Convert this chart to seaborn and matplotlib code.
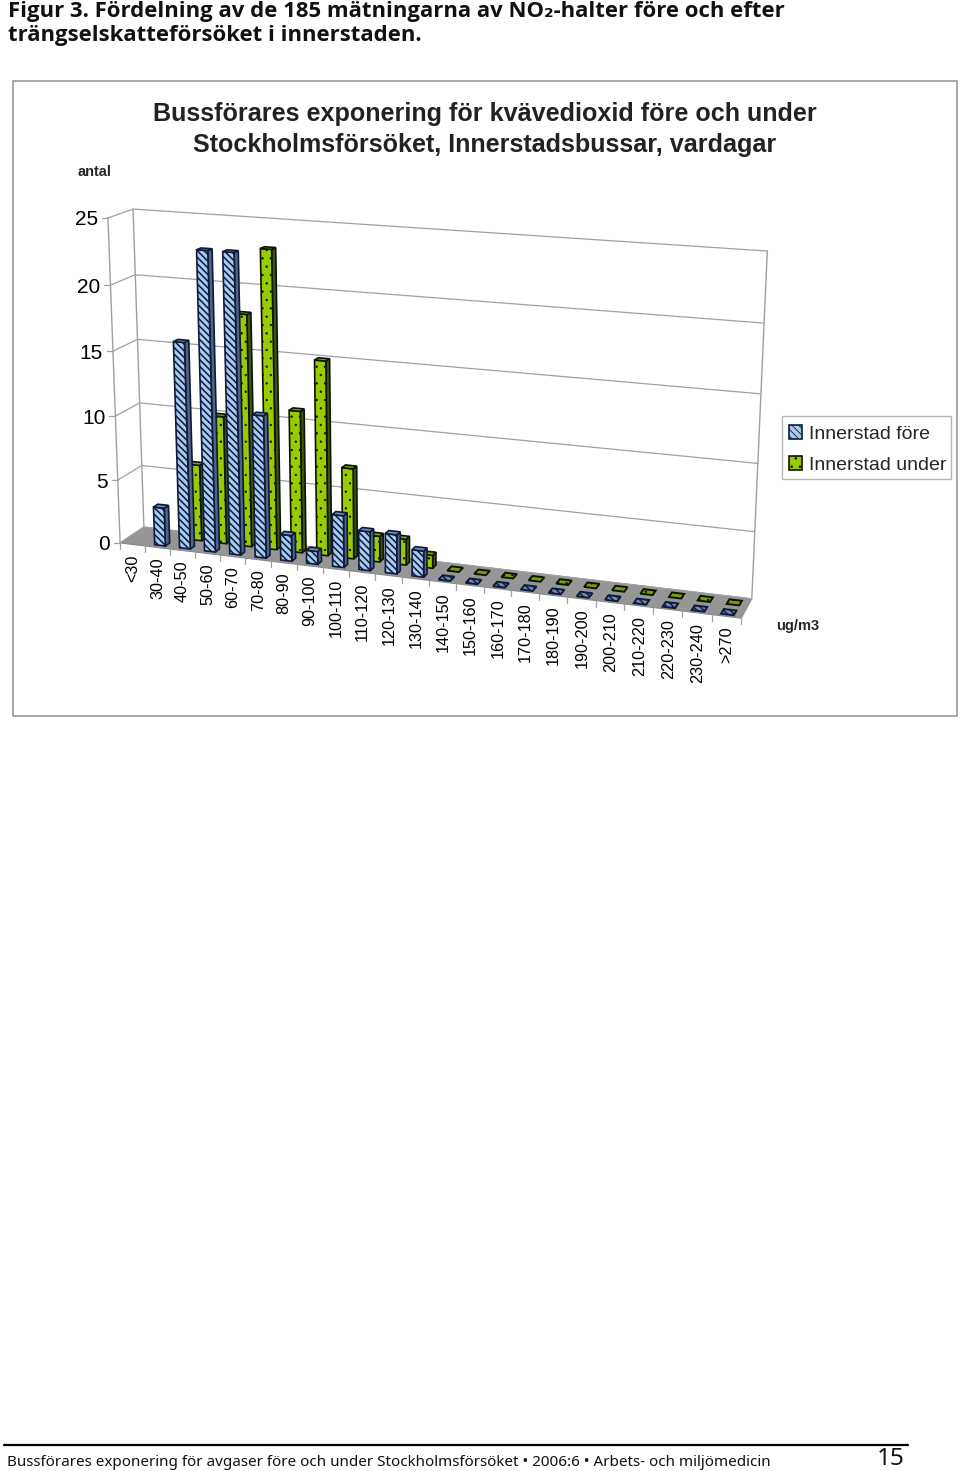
import numpy as np
import pandas as pd
import matplotlib
matplotlib.use("Agg")
import matplotlib.pyplot as plt
from matplotlib.patches import Polygon, Patch, Rectangle
import seaborn as sns

categories = ["<30", "30-40", "40-50", "50-60", "60-70", "70-80", "80-90", "90-100",
              "100-110", "110-120", "120-130", "130-140", "140-150", "150-160",
              "160-170", "170-180", "180-190", "190-200", "200-210", "210-220",
              "220-230", "230-240", ">270"]
fore = [np.nan, 3, 16, 23, 23, 11, 2, 1, 4, 3, 3, 2, 0, 0, 0, 0, 0, 0, 0, 0, 0, 0, 0]
under = [np.nan, np.nan, 6, 10, 18, 23, 11, 15, 7, 2, 2, 1, 0, 0, 0, 0, 0, 0, 0, 0, 0, 0, 0]
y_ticks = [0, 5, 10, 15, 20, 25]
series_names = ["Innerstad före", "Innerstad under"]

sns.set_theme(style="white", font="Liberation Sans")

df = pd.concat([
    pd.DataFrame({"kategori": categories, "antal": fore, "serie": series_names[0]}),
    pd.DataFrame({"kategori": categories, "antal": under, "serie": series_names[1]}),
], ignore_index=True)

fig = plt.figure(figsize=(9.6, 14.71), dpi=100, facecolor="white")
ax = fig.add_axes([0, 0, 1, 1])
ax.set_xlim(0, 960)
ax.set_ylim(1471, 0)
ax.axis("off")

# seaborn computes the bars on a hidden category axis; they are then projected in 3D
hidden = fig.add_axes([0, 0, 1, 1])
sns.barplot(data=df, x="kategori", y="antal", hue="serie", order=categories,
            hue_order=series_names, dodge=False, width=0.43, errorbar=None,
            legend=False, ax=hidden)
hidden.set_visible(False)

# camera fitted on the corners of the chart box: (category, depth, value) -> pixel
n_cat = len(categories)
box = [((0, 0, 0), (120, 543)), ((n_cat, 0, 0), (741, 618)),
       ((0, 1, 0), (144, 527)), ((n_cat, 1, 0), (752, 599)),
       ((0, 0, 25), (108, 218)), ((n_cat, 0, 25), (757, 262)),
       ((0, 1, 25), (133, 209)), ((n_cat, 1, 25), (767, 251))]
rows = []
for (u, d, v), (px, py) in box:
    X = [u, d, v, 1]
    rows.append(X + [0, 0, 0, 0] + [-px * c for c in X])
    rows.append([0, 0, 0, 0] + X + [-py * c for c in X])
cam = np.linalg.svd(np.array(rows, float))[2][-1].reshape(3, 4)


def P(u, d, v):
    w = cam @ np.array([u, d, v, 1.0])
    return w[0] / w[2], w[1] / w[2]


GRID = "#a0a0a0"
# floor and walls
ax.add_patch(Polygon([P(0, 0, 0), P(n_cat, 0, 0), P(n_cat, 1, 0), P(0, 1, 0)],
                     closed=True, fc="#969696", ec="#8a8a8a", lw=0.8, zorder=1))
for v in y_ticks:
    pts = [P(0, 0, v), P(0, 1, v), P(n_cat, 1, v)]
    ax.plot(*zip(*pts), color=GRID, lw=0.9, zorder=1)
    x0, y0 = P(0, 0, v)
    ax.plot([x0 - 6, x0], [y0, y0], color=GRID, lw=0.9, zorder=1)
    ax.text(x0 - 10, y0 + 2, str(v), ha="right", va="center", fontsize=15, color="black")
for pts in ([P(0, 0, 0), P(0, 0, 25)], [P(0, 1, 0), P(0, 1, 25)], [P(n_cat, 1, 0), P(n_cat, 1, 25)]):
    ax.plot(*zip(*pts), color=GRID, lw=1.0, zorder=1)
for i in range(n_cat + 1):
    x0, y0 = P(i, 0, 0)
    ax.plot([x0, x0], [y0, y0 + 6], color=GRID, lw=0.9, zorder=1)
for i, lab in enumerate(categories):
    x0, y0 = P(i + 0.5, 0, 0)
    ax.text(x0 + 0.5, y0 + 10, lab, rotation=90, ha="center", va="top", fontsize=11.7, color="black")

styles = {
    series_names[0]: dict(depth=(0.125, 0.31), face="#A6CAF0", side="#4F6385", top="#6F8AB0",
                          hatch="\\\\\\\\\\", ink="#0F1A3A", hlw=1.1, z=5),
    series_names[1]: dict(depth=(0.63, 0.815), face="#99CC00", side="#3F5610", top="#789E0C",
                          hatch="..", ink="#0C1400", hlw=0.5, z=3),
}
EDGE = 1.2
# bars: back series first, then the front series, always left to right
for name, container in reversed(list(zip(series_names, hidden.containers))):
    st = styles[name]
    plt.rcParams["hatch.linewidth"] = st["hlw"]
    d0, d1 = st["depth"]
    for k, bar in enumerate(container):
        h = bar.get_height()
        if not np.isfinite(h):
            continue
        u0 = bar.get_x() + 0.5
        u1 = u0 + bar.get_width()
        z = st["z"] + k * 0.01
        if h > 0:
            ax.add_patch(Polygon([P(u1, d0, 0), P(u1, d1, 0), P(u1, d1, h), P(u1, d0, h)],
                                 closed=True, fc=st["side"], ec=st["ink"], lw=EDGE, zorder=z))
            ax.add_patch(Polygon([P(u0, d0, 0), P(u1, d0, 0), P(u1, d0, h), P(u0, d0, h)],
                                 closed=True, fc=st["face"], ec=st["ink"], lw=EDGE,
                                 hatch=st["hatch"], zorder=z))
            ax.add_patch(Polygon([P(u0, d0, h), P(u1, d0, h), P(u1, d1, h), P(u0, d1, h)],
                                 closed=True, fc=st["top"], ec=st["ink"], lw=EDGE, zorder=z))
        else:
            ax.add_patch(Polygon([P(u0, d0 - 0.03, 0), P(u1, d0 - 0.03, 0), P(u1, d1 + 0.03, 0), P(u0, d1 + 0.03, 0)],
                                 closed=True, fc=st["top"], ec=st["ink"], lw=1.4,
                                 hatch=st["hatch"], zorder=z))

# chart frame, titles
ax.add_patch(Rectangle((13, 81), 944, 635, fc="none", ec="#9a9a9a", lw=1.2, zorder=0))
for yy, line in [(114, "Bussförares exponering för kvävedioxid före och under"),
                 (145, "Stockholmsförsöket, Innerstadsbussar, vardagar")]:
    ax.text(485, yy, line, ha="center", va="center", fontsize=18.1, fontweight="bold", color="#222222")
ax.text(95, 172, "antal", ha="center", va="center", fontsize=10.5, fontweight="bold")
ax.text(798, 626, "ug/m3", ha="center", va="center", fontsize=10.5, fontweight="bold")

plt.rcParams["hatch.linewidth"] = 0.6
handles = [Patch(fc=styles[s]["face"], ec=styles[s]["ink"], hatch=styles[s]["hatch"], lw=1.2)
           for s in series_names]
ax.add_patch(Rectangle((782, 416), 169, 63, fc="white", ec="#b5b5b5", lw=1.0, zorder=0.5))
leg = ax.legend(handles, series_names, loc="upper left", bbox_to_anchor=(782, 418.5),
                bbox_transform=ax.transData, fontsize=14, frameon=False,
                borderaxespad=0, borderpad=0.35,
                handlelength=0.68, handleheight=0.68, handletextpad=0.36, labelspacing=0.7)

# page text
head = [(11, "Figur 3. Fördelning av de 185 mätningarna av NO₂-halter före och efter"),
        (35, "trängselskatteförsöket i innerstaden.")]
for yy, line in head:
    ax.text(8, yy, line, ha="left", va="center", fontsize=15.9, fontweight="bold",
            family=["Open Sans", "DejaVu Sans"], color="#111111")
ax.plot([4, 908], [1445, 1445], color="black", lw=1.6)
ax.text(7, 1462, "Bussförares exponering för avgaser före och under Stockholmsförsöket • 2006:6 • Arbets- och miljömedicin",
        ha="left", va="center", fontsize=10.95, family=["Noto Sans", "DejaVu Sans"], color="#111111")
ax.text(891, 1459, "15", ha="center", va="center", fontsize=17.5, family=["Noto Sans"], color="#111111")

fig.savefig("out.png", dpi=100, facecolor="white")
